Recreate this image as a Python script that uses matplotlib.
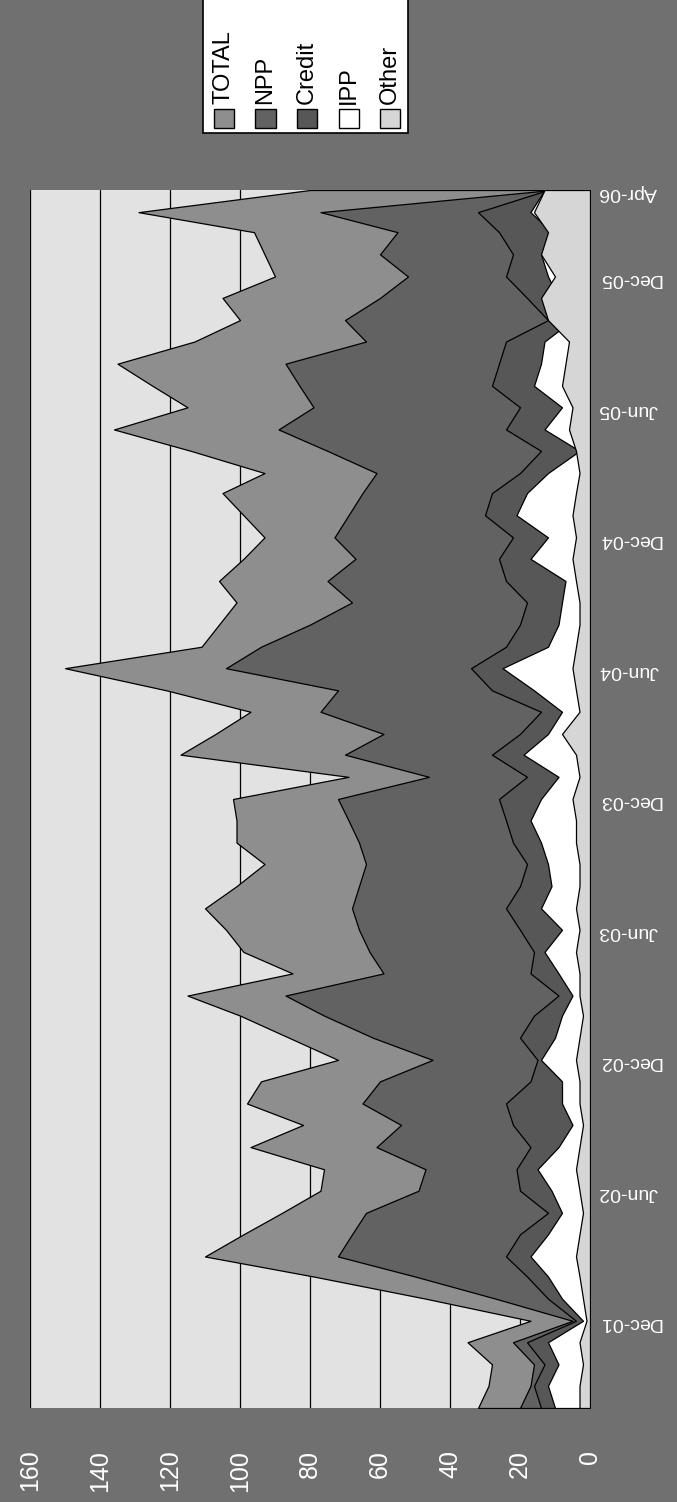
"""
Rotated area chart (scanned look): TOTAL / NPP / Credit / IPP / Other, monthly.
The page is portrait, so the value axis runs horizontally (0 on the right)
and time runs bottom -> top.
"""
import matplotlib
matplotlib.use("Agg")  # no display
import matplotlib.pyplot as plt
import matplotlib.dates as mdates
from matplotlib.patches import Rectangle
import pandas as pd

plt.rcParams["font.family"] = ["Liberation Sans", "DejaVu Sans"]

# ── data ──
months = pd.date_range("2001-08-01", "2006-04-01", freq="MS")

total = [32, 29, 28, 35, 17, 47, 79, 110, 99, 88,
         77, 76, 97, 82, 98, 94, 72, 86, 100, 115,
         85, 99, 104, 110, 101, 93, 101, 101, 102, 69,
         117, 107, 97, 121, 150, 111, 106, 101, 106, 99,
         93, 99, 105, 93, 114, 136, 115, 125, 135, 113,
         100, 105, 90, 93, 96, 129, 80]
npp = [20, 17, 16, 22, 5, 27, 50, 72, 68, 64,
       49, 47, 61, 54, 65, 60, 45, 62, 76, 87,
       59, 63, 66, 68, 66, 64, 66, 69, 72, 46,
       70, 59, 77, 72, 104, 94, 80, 68, 75, 67,
       73, 69, 65, 61, 75, 89, 79, 83, 87, 64,
       70, 60, 52, 60, 55, 77, 11]
credit = [14, 16, 13, 18, 4, 12, 18, 24, 20, 12,
          20, 21, 17, 22, 24, 17, 15, 20, 16, 9,
          17, 16, 20, 24, 20, 18, 22, 24, 26, 18,
          28, 20, 14, 28, 34, 24, 20, 18, 24, 26,
          22, 30, 28, 20, 14, 24, 20, 28, 26, 24,
          12, 18, 24, 22, 26, 32, 12]
ipp = [10, 12, 9, 12, 2, 8, 12, 17, 12, 8,
       11, 15, 9, 5, 8, 8, 14, 10, 8, 5,
       9, 13, 8, 14, 11, 12, 14, 17, 14, 9,
       19, 12, 8, 16, 25, 12, 9, 8, 7, 17,
       12, 21, 18, 12, 3, 13, 8, 16, 14, 13,
       5, 9, 12, 14, 11, 17, 13]
other = [3, 3, 2, 3, 1, 2, 3, 4, 3, 2,
         3, 4, 3, 2, 3, 3, 4, 3, 2, 3,
         3, 4, 3, 4, 3, 3, 4, 4, 5, 3,
         4, 8, 3, 4, 5, 4, 3, 3, 4, 5,
         4, 5, 4, 3, 4, 6, 5, 8, 7, 6,
         12, 14, 10, 14, 12, 16, 13]

series_names = ["TOTAL", "NPP", "Credit", "IPP", "Other"]
tick_dates = pd.to_datetime(["2001-12-01", "2002-06-01", "2002-12-01", "2003-06-01",
                             "2003-12-01", "2004-06-01", "2004-12-01", "2005-06-01",
                             "2005-12-01", "2006-04-01"])
value_ticks = [0, 20, 40, 60, 80, 100, 120, 140, 160]

# ── style ──
W, H = 677, 1502
BG = "#707070"
PLOT_BG = "#e2e2e2"
FILLS = ["#8e8e8e", "#626262", "#575757", "#ffffff", "#d6d6d6"]


def fx(px):
    return px / W


def fy(py):
    return 1 - py / H


fig = plt.figure(figsize=(W / 100, H / 100), dpi=100, facecolor=BG)
ax = fig.add_axes([fx(30), fy(1408), fx(560), (1408 - 190) / H])
ax.set_facecolor(PLOT_BG)

t = mdates.date2num(months)
for vals, color in zip([total, npp, credit, ipp, other], FILLS):
    ax.fill_betweenx(t, 0, vals, facecolor=color, edgecolor="black",
                     linewidth=0.9, zorder=2)

ax.set_xlim(160, 0)
ax.set_ylim(t[0], t[-1])

ax.set_xticks(value_ticks)
ax.xaxis.grid(True, color="black", linewidth=0.9)
ax.yaxis.grid(False)
ax.set_axisbelow(True)
ax.tick_params(axis="x", length=0, pad=30, labelsize=18,
               labelcolor="white", labelrotation=90)

ax.yaxis.tick_right()
ax.set_yticks(mdates.date2num(tick_dates))
ax.yaxis.set_major_formatter(mdates.DateFormatter("%b-%y"))
ax.tick_params(axis="y", length=0, pad=6, labelsize=14,
               labelcolor="white", labelrotation=180)

for s in ax.spines.values():
    s.set_visible(False)

# ── legend (drawn by hand: it is turned on its side like the rest) ──
fig.patches.append(Rectangle((fx(203), fy(133)), fx(205), 140 / H,
                             transform=fig.transFigure, facecolor="white",
                             edgecolor="black", linewidth=1.2, zorder=5))
for i, (name, color) in enumerate(zip(series_names, FILLS)):
    cx = 224 + i * 41.5
    fig.patches.append(Rectangle((fx(cx - 10), fy(128)), fx(20), 19 / H,
                                 transform=fig.transFigure, facecolor=color,
                                 edgecolor="black", linewidth=1, zorder=6))
    fig.text(fx(cx), fy(104), name, rotation=90, ha="center", va="bottom",
             fontsize=17, color="black", zorder=7)

fig.savefig("out.png", dpi=100, facecolor=BG)
